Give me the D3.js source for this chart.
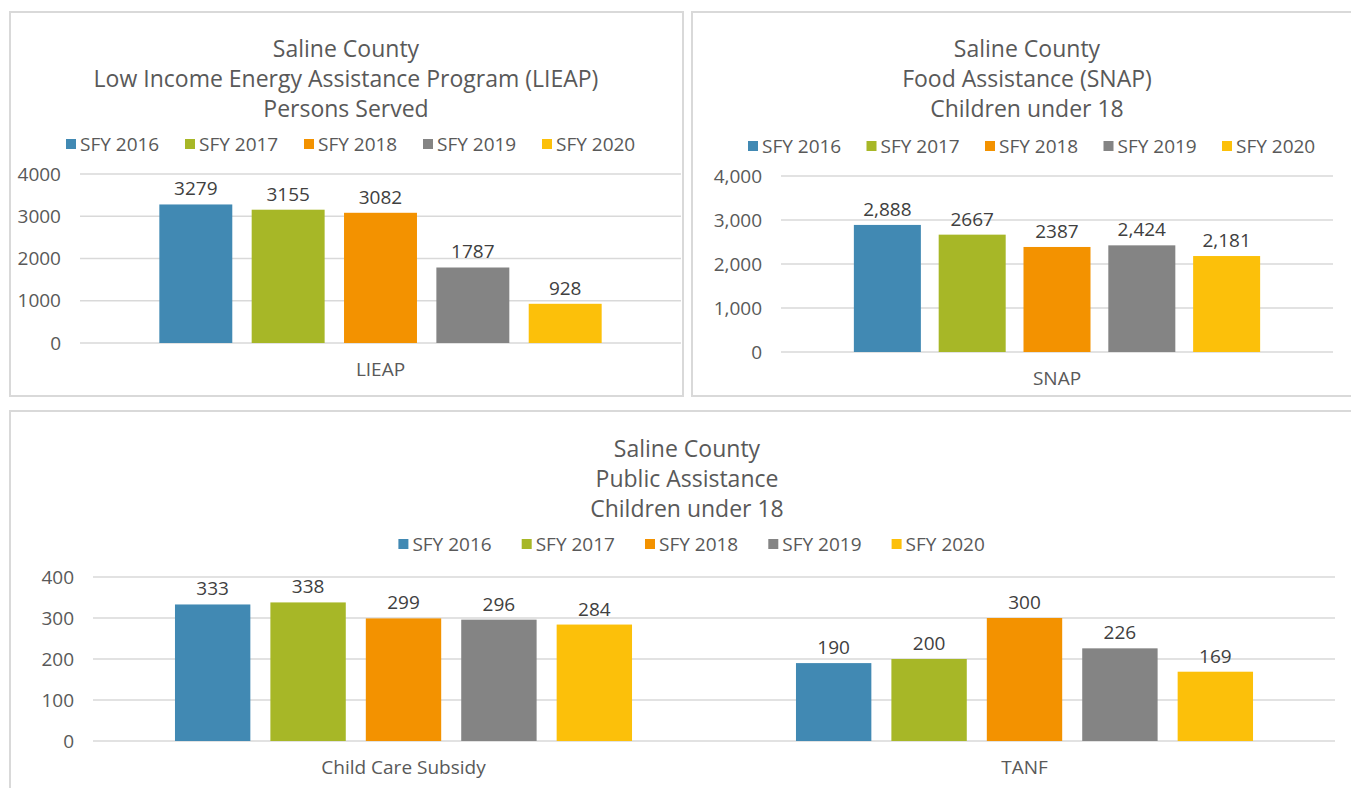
<!DOCTYPE html>
<meta charset="utf-8">
<style>
  body { margin: 0; background: #fff; }
  svg text { font-family: "Open Sans", sans-serif; }
</style>
<script src="https://d3js.org/d3.v7.min.js"></script>
<div id="chart"></div>
<script>

// data
var seriesNames = ["SFY 2016", "SFY 2017", "SFY 2018", "SFY 2019", "SFY 2020"];
var seriesColors = ["#4189b3", "#a7b727", "#f39200", "#848484", "#fcc00a"];

var lieapCategories = ["LIEAP"];
var lieapValues = [[3279, 3155, 3082, 1787, 928]];
var lieapTicks = [0, 1000, 2000, 3000, 4000];

var snapCategories = ["SNAP"];
var snapValues = [[2888, 2667, 2387, 2424, 2181]];
var snapLabels = [["2,888", "2667", "2387", "2,424", "2,181"]];
var snapTicks = [0, 1000, 2000, 3000, 4000];

var paCategories = ["Child Care Subsidy", "TANF"];
var paValues = [[333, 338, 299, 296, 284], [190, 200, 300, 226, 169]];
var paTicks = [0, 100, 200, 300, 400];

var W = 1351, H = 788;
var svg = d3.select("#chart").append("svg")
  .attr("width", W).attr("height", H);

// one chart box
function drawPanel(p) {
  var g = svg.append("g");

  // frame
  g.append("rect")
    .attr("x", p.box[0]).attr("y", p.box[1])
    .attr("width", p.box[2]).attr("height", p.box[3])
    .attr("fill", "#fff").attr("stroke", "#d9d9d9").attr("stroke-width", 2);

  // title, three lines
  g.selectAll(".title").data(p.title).enter().append("text")
    .attr("x", p.cx)
    .attr("y", function(d, i) { return p.titleY + i * 30; })
    .attr("text-anchor", "middle")
    .style("font-size", "23px").style("fill", "#595959")
    .text(function(d) { return d; });

  // legend
  var leg = g.selectAll(".leg").data(seriesNames).enter().append("g")
    .attr("transform", function(d, i) {
      return "translate(" + (p.cx + (i - 2) * p.legStep - 42) + "," + p.legY + ")";
    });
  leg.append("rect").attr("x", 0).attr("y", -12).attr("width", 10).attr("height", 10)
    .attr("fill", function(d, i) { return seriesColors[i]; });
  leg.append("text").attr("x", 14).attr("y", 0)
    .style("font-size", "19px").style("fill", "#595959")
    .text(function(d) { return d; });

  var y = d3.scaleLinear().domain([0, p.ticks[p.ticks.length - 1]]).range([p.y0, p.y1]);

  var x0 = d3.scaleBand().domain(p.categories).range([p.x0, p.x1])
    .paddingInner(0.264).paddingOuter(0.132);
  var x1 = d3.scaleBand().domain(d3.range(seriesNames.length))
    .range([0, x0.bandwidth()]).paddingInner(0.21);

  // gridlines
  g.selectAll(".grid").data(p.ticks).enter().append("line")
    .attr("x1", p.x0).attr("x2", p.x1)
    .attr("y1", function(d) { return y(d); }).attr("y2", function(d) { return y(d); })
    .attr("stroke", "#d9d9d9").attr("stroke-width", 1.5);

  // y axis labels
  var ax = g.append("g").attr("transform", "translate(" + p.x0 + ",0)")
    .call(d3.axisLeft(y).tickValues(p.ticks).tickSize(0).tickPadding(19).tickFormat(p.fmt));
  ax.select(".domain").remove();
  ax.selectAll("text").style("font-size", "19px").style("fill", "#595959")
    .style("font-family", "'Open Sans', sans-serif");

  // bars
  p.categories.forEach(function(cat, ci) {
    var cg = g.append("g").attr("transform", "translate(" + x0(cat) + ",0)");
    cg.selectAll("rect").data(p.values[ci]).enter().append("rect")
      .attr("x", function(d, i) { return x1(i); })
      .attr("y", function(d) { return y(d); })
      .attr("width", x1.bandwidth())
      .attr("height", function(d) { return y(0) - y(d); })
      .attr("fill", function(d, i) { return seriesColors[i]; });
    cg.selectAll(".lbl").data(p.values[ci]).enter().append("text")
      .attr("x", function(d, i) { return x1(i) + x1.bandwidth() / 2; })
      .attr("y", function(d) { return y(d) - 9; })
      .attr("text-anchor", "middle")
      .style("font-size", "19px").style("fill", "#404040")
      .text(function(d, i) { return p.labels ? p.labels[ci][i] : d; });
    g.append("text")
      .attr("x", x0(cat) + x0.bandwidth() / 2)
      .attr("y", y(0) + 33)
      .attr("text-anchor", "middle")
      .style("font-size", "19px").style("fill", "#595959")
      .text(cat);
  });
}

drawPanel({
  box: [10, 12, 673, 384], cx: 346,
  title: ["Saline County", "Low Income Energy Assistance Program (LIEAP)", "Persons Served"],
  titleY: 57, legY: 151, legStep: 119,
  x0: 80, x1: 681, y0: 343, y1: 174,
  ticks: lieapTicks, fmt: d3.format("d"),
  categories: lieapCategories, values: lieapValues
});

drawPanel({
  box: [692, 12, 680, 384], cx: 1027,
  title: ["Saline County", "Food Assistance (SNAP)", "Children under 18"],
  titleY: 57, legY: 153, legStep: 118.5,
  x0: 781, x1: 1333, y0: 352, y1: 176,
  ticks: snapTicks, fmt: d3.format(","),
  categories: snapCategories, values: snapValues, labels: snapLabels
});

drawPanel({
  box: [10, 411, 1360, 390], cx: 687,
  title: ["Saline County", "Public Assistance", "Children under 18"],
  titleY: 457, legY: 551, legStep: 123.3,
  x0: 93, x1: 1335, y0: 741, y1: 577,
  ticks: paTicks, fmt: d3.format("d"),
  categories: paCategories, values: paValues
});

</script>
